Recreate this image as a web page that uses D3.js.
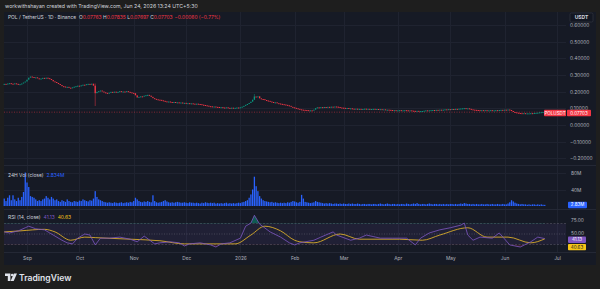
<!DOCTYPE html>
<html>
<head>
<meta charset="utf-8">
<script src="https://cdn.jsdelivr.net/npm/d3@7"></script>
<style>
  html, body { margin: 0; padding: 0; background: #1e1e1e; overflow: hidden; }
  svg { display: block; }
</style>
</head>
<body>
<script>
// daily closes for POL/USDT, first candle is 2025-08-19
const startDay = new Date(Date.UTC(2025, 7, 19));
const firstOpen = 0.245;
const closes = [
  0.247, 0.244, 0.249, 0.251, 0.248, 0.246, 0.250, 0.247, 0.243, 0.245,
  0.249, 0.255, 0.261, 0.272, 0.284, 0.291, 0.288, 0.283, 0.286, 0.280,
  0.277, 0.279, 0.283, 0.280, 0.284, 0.281, 0.276, 0.270, 0.262, 0.258,
  0.252, 0.246, 0.240, 0.233, 0.231, 0.226, 0.229, 0.224, 0.221, 0.226,
  0.230, 0.233, 0.236, 0.235, 0.238, 0.242, 0.240, 0.245, 0.247, 0.244,
  0.248, 0.236, 0.191, 0.199, 0.203, 0.207, 0.201, 0.196, 0.193, 0.191,
  0.194, 0.199, 0.197, 0.200, 0.196, 0.199, 0.203, 0.201, 0.201, 0.198,
  0.203, 0.199, 0.196, 0.193, 0.191, 0.178, 0.165, 0.169, 0.172, 0.171,
  0.176, 0.179, 0.181, 0.176, 0.169, 0.161, 0.157, 0.154, 0.152, 0.151,
  0.148, 0.145, 0.142, 0.140, 0.141, 0.138, 0.136, 0.138, 0.135, 0.136,
  0.134, 0.135, 0.132, 0.133, 0.130, 0.131, 0.129, 0.130, 0.128, 0.127,
  0.128, 0.126, 0.125, 0.122, 0.120, 0.118, 0.116, 0.113, 0.112, 0.110,
  0.111, 0.109, 0.108, 0.106, 0.107, 0.105, 0.104, 0.106, 0.103, 0.102,
  0.104, 0.102, 0.103, 0.105, 0.104, 0.106, 0.110, 0.115, 0.121, 0.126,
  0.132, 0.140, 0.152, 0.171, 0.168, 0.172, 0.160, 0.156, 0.155, 0.150,
  0.147, 0.145, 0.141, 0.138, 0.135, 0.136, 0.131, 0.129, 0.127, 0.125,
  0.123, 0.121, 0.118, 0.115, 0.109, 0.106, 0.103, 0.100, 0.097, 0.094,
  0.092, 0.091, 0.090, 0.089, 0.087, 0.088, 0.086, 0.092, 0.101, 0.106,
  0.104, 0.107, 0.105, 0.108, 0.106, 0.109, 0.107, 0.110, 0.108, 0.111,
  0.110, 0.108, 0.105, 0.104, 0.103, 0.101, 0.102, 0.099, 0.100, 0.098,
  0.097, 0.098, 0.096, 0.097, 0.095, 0.096, 0.098, 0.096, 0.097, 0.095,
  0.096, 0.097, 0.095, 0.096, 0.094, 0.095, 0.093, 0.094, 0.092, 0.092,
  0.091, 0.090, 0.089, 0.089, 0.088, 0.088, 0.089, 0.087, 0.088, 0.089,
  0.088, 0.087, 0.088, 0.086, 0.085, 0.084, 0.085, 0.083, 0.083, 0.084,
  0.086, 0.088, 0.087, 0.088, 0.089, 0.090, 0.089, 0.091, 0.090, 0.092,
  0.091, 0.092, 0.094, 0.093, 0.095, 0.094, 0.096, 0.095, 0.097, 0.096,
  0.098, 0.099, 0.100, 0.101, 0.099, 0.100, 0.097, 0.094, 0.092, 0.091,
  0.090, 0.089, 0.088, 0.089, 0.088, 0.089, 0.087, 0.088, 0.089, 0.088,
  0.088, 0.089, 0.088, 0.090, 0.091, 0.090, 0.092, 0.091, 0.093, 0.090,
  0.084, 0.078, 0.076, 0.074, 0.072, 0.071, 0.070, 0.071, 0.069, 0.070,
  0.070, 0.071, 0.070, 0.072, 0.073, 0.074, 0.076, 0.077, 0.078, 0.07703
];
// the few candles whose wicks stand out
const wickIndex = [52, 143];
const wickHigh = [0.249, 0.186];
const wickLow = [0.114, 0.150];

// 24h volume, millions
const volumes = [
  18, 12, 20, 26, 14, 26, 16, 12, 20, 14,
  22, 34, 81, 57, 46, 24, 22, 20, 16, 12,
  14, 12, 16, 18, 24, 20, 16, 22, 18, 14,
  16, 12, 10, 14, 12, 10, 16, 12, 10, 9,
  12, 11, 10, 13, 12, 16, 14, 12, 11, 14,
  13, 18, 36, 22, 16, 14, 12, 10, 9, 8,
  9, 8, 7, 9, 8, 7, 8, 9, 7, 8,
  9, 8, 10, 9, 12, 20, 16, 12, 10, 9,
  11, 10, 12, 10, 9, 26, 12, 9, 8, 9,
  10, 12, 14, 11, 9, 8, 9, 8, 9, 10,
  9, 8, 8, 9, 8, 7, 9, 8, 8, 7,
  8, 7, 6, 8, 7, 9, 8, 7, 8, 7,
  8, 6, 7, 6, 7, 6, 7, 8, 6, 7,
  6, 7, 6, 7, 8, 7, 9, 10, 12, 14,
  20, 28, 40, 71, 48, 36, 24, 18, 14, 12,
  11, 10, 9, 10, 8, 9, 8, 7, 8, 7,
  8, 7, 9, 8, 10, 12, 11, 9, 8, 10,
  27, 18, 10, 9, 8, 7, 8, 9, 12, 10,
  9, 8, 7, 6, 7, 6, 7, 6, 5, 6,
  6, 5, 6, 5, 6, 5, 5, 6, 5, 6,
  5, 5, 6, 5, 4, 5, 5, 4, 5, 5,
  4, 5, 5, 4, 5, 6, 5, 4, 5, 6,
  5, 4, 5, 5, 4, 5, 4, 5, 5, 4,
  6, 5, 4, 5, 6, 5, 7, 5, 4, 5,
  5, 4, 5, 6, 5, 4, 5, 5, 4, 5,
  4, 5, 4, 5, 4, 5, 5, 4, 5, 4,
  5, 6, 5, 7, 6, 5, 5, 4, 5, 4,
  5, 4, 4, 5, 4, 4, 5, 4, 4, 5,
  4, 4, 5, 4, 4, 5, 4, 4, 6, 9,
  14, 11, 8, 6, 5, 4, 5, 4, 4, 3,
  4, 3, 4, 4, 3, 4, 3, 4, 3, 2.83
];

// RSI(14) and its moving average, sampled by day index
const rsiDay = [0, 3, 8, 12, 14, 18, 23, 26, 29, 33, 36, 39, 42, 46, 49, 52, 55, 60, 66, 72,
  76, 80, 86, 89, 95, 100, 103, 106, 112, 118, 121, 124, 129, 135, 138, 141, 143, 146, 152, 158,
  163, 166, 169, 177, 181, 188, 190, 198, 203, 207, 215, 222, 230, 235, 238, 243, 249, 255, 261, 263,
  265, 268, 272, 279, 283, 289, 295, 301, 305, 309];
const rsiVal = [54, 52, 56, 62, 65, 60, 58, 52, 46, 38, 33, 31, 42, 50, 48, 29, 42, 42, 44, 40,
  35, 46, 31, 33, 35, 33, 27, 31, 33, 29, 25, 31, 33, 42, 65, 71, 86, 69, 54, 44,
  33, 29, 33, 38, 44, 54, 48, 38, 42, 48, 42, 42, 42, 29, 42, 52, 58, 62, 67, 71,
  48, 38, 44, 42, 52, 29, 25, 35, 44, 41.13];
const maDay = [0, 9, 23, 29, 38, 46, 52, 72, 89, 103, 121, 132, 141, 149, 158, 166, 169, 177, 192, 203,
  226, 239, 249, 265, 276, 288, 301, 309];
const maVal = [54, 56, 59, 54, 38, 44, 43, 40, 37, 31, 31, 31, 48, 65, 56, 38, 35, 33, 50, 40,
  40, 38, 48, 62, 44, 44, 33, 40.63];

const priceTicks = [0.6, 0.5, 0.4, 0.3, 0.2, 0.1, 0, -0.1, -0.2];
const volTicks = [40, 80];
const rsiTicks = [50, 75];
const monthTicks = [
  [2025, 8], [2025, 9], [2025, 10], [2025, 11], [2026, 0], [2026, 1],
  [2026, 2], [2026, 3], [2026, 4], [2026, 5], [2026, 6]
].map(d => new Date(Date.UTC(d[0], d[1], 1)));
const monthLabels = ['Sep', 'Oct', 'Nov', 'Dec', '2026', 'Feb', 'Mar', 'Apr', 'May', 'Jun', 'Jul'];

const W = 600, H = 289;
const up = '#089981', down = '#f23645';
const textCol = '#b2b5be';
const font = 'Inter, "Noto Sans", sans-serif';

const svg = d3.select('body').append('svg')
  .attr('width', W).attr('height', H)
  .style('font-family', font);

svg.append('rect').attr('width', W).attr('height', H).attr('fill', '#1e1e1e');

svg.append('text')
  .attr('x', 5).attr('y', 7.6)
  .attr('font-size', 5.2).attr('fill', '#d1d4dc')
  .text('workwithshayan created with TradingView.com, Jun 24, 2026 13:24 UTC+5:30');

// chart panel
svg.append('rect')
  .attr('x', 4).attr('y', 12).attr('width', 592).attr('height', 253)
  .attr('fill', '#161a25');

const plotL = 4, plotR = 566;
const pane = { price: [12, 165], vol: [165, 209], rsi: [209, 252] };

const x = d3.scaleUtc()
  .domain([monthTicks[0], monthTicks[monthTicks.length - 1]])
  .range([27, 557]);
const yPrice = d3.scaleLinear().domain([0, 0.5]).range([125, 41.7]);
const yVol = d3.scaleLinear().domain([0, 80]).range([206, 173]);
const yRsi = d3.scaleLinear().domain([50, 75]).range([234, 221]);

const dayAt = i => d3.utcDay.offset(startDay, i);

// grid
const grid = svg.append('g').attr('stroke', '#1f2330').attr('stroke-width', 1);
grid.selectAll('line.v').data(monthTicks).join('line')
  .attr('class', 'v')
  .attr('x1', d => Math.round(x(d)) + 0.5).attr('x2', d => Math.round(x(d)) + 0.5)
  .attr('y1', 12).attr('y2', pane.rsi[1]);
grid.selectAll('line.h').data(priceTicks.filter(t => yPrice(t) > pane.price[0] + 4 && yPrice(t) < pane.price[1])).join('line')
  .attr('class', 'h')
  .attr('x1', plotL).attr('x2', plotR)
  .attr('y1', d => Math.round(yPrice(d)) + 0.5).attr('y2', d => Math.round(yPrice(d)) + 0.5);
grid.selectAll('line.hv').data(volTicks).join('line')
  .attr('class', 'hv')
  .attr('x1', plotL).attr('x2', plotR)
  .attr('y1', d => Math.round(yVol(d)) + 0.5).attr('y2', d => Math.round(yVol(d)) + 0.5);

// pane separators
svg.append('g').attr('stroke', '#242835')
  .selectAll('line').data([pane.price[1], pane.vol[1], pane.rsi[1]]).join('line')
  .attr('x1', 4).attr('x2', 596)
  .attr('y1', d => d + 0.5).attr('y2', d => d + 0.5);

// last price line
const lastClose = closes[closes.length - 1];
svg.append('line')
  .attr('x1', plotL).attr('x2', plotR)
  .attr('y1', yPrice(lastClose)).attr('y2', yPrice(lastClose))
  .attr('stroke', down).attr('stroke-width', 0.8)
  .attr('stroke-dasharray', '1,1.5').attr('opacity', 0.6);

// candles
const candles = closes.map((c, i) => ({ date: dayAt(i), o: i ? closes[i - 1] : firstOpen, c }));
const bw = 1.3;
svg.append('g').selectAll('rect').data(candles).join('rect')
  .attr('x', d => x(d.date) - bw / 2)
  .attr('width', bw)
  .attr('y', d => yPrice(Math.max(d.o, d.c)))
  .attr('height', d => Math.max(1, Math.abs(yPrice(d.o) - yPrice(d.c))))
  .attr('fill', d => d.c >= d.o ? up : down);
svg.append('g').selectAll('line').data(wickIndex).join('line')
  .attr('x1', i => x(dayAt(i))).attr('x2', i => x(dayAt(i)))
  .attr('y1', (i, k) => yPrice(wickHigh[k])).attr('y2', (i, k) => yPrice(wickLow[k]))
  .attr('stroke', i => candles[i].c >= candles[i].o ? up : down)
  .attr('stroke-width', 0.8).attr('opacity', 0.6);

// volume bars
svg.append('g').selectAll('rect').data(volumes).join('rect')
  .attr('x', (v, i) => x(dayAt(i)) - bw / 2)
  .attr('width', bw)
  .attr('y', v => yVol(v))
  .attr('height', v => yVol(0) - yVol(v))
  .attr('fill', '#2962ff');

// RSI pane
const rsiG = svg.append('g');
rsiG.append('rect')
  .attr('x', plotL).attr('width', plotR - plotL)
  .attr('y', yRsi(70)).attr('height', yRsi(30) - yRsi(70))
  .attr('fill', '#7e57c2').attr('opacity', 0.1);
rsiG.selectAll('line').data([70, 50, 30]).join('line')
  .attr('x1', plotL).attr('x2', plotR)
  .attr('y1', d => yRsi(d)).attr('y2', d => yRsi(d))
  .attr('stroke', '#787b86').attr('stroke-width', 0.6)
  .attr('stroke-dasharray', d => d === 50 ? '1,1.5' : '2,1.5')
  .attr('opacity', 0.7);

const defs = svg.append('defs');
defs.append('clipPath').attr('id', 'ob').append('rect')
  .attr('x', plotL).attr('width', plotR - plotL).attr('y', pane.rsi[0]).attr('height', yRsi(70) - pane.rsi[0]);
defs.append('clipPath').attr('id', 'os').append('rect')
  .attr('x', plotL).attr('width', plotR - plotL).attr('y', yRsi(30)).attr('height', pane.rsi[1] - yRsi(30));

const rsiPts = rsiDay.map((d, k) => [x(dayAt(d)), yRsi(rsiVal[k])]);
rsiG.append('path').datum(rsiPts)
  .attr('clip-path', 'url(#ob)')
  .attr('fill', up).attr('opacity', 0.5)
  .attr('d', d3.area().x(p => p[0]).y0(yRsi(70)).y1(p => p[1]));
rsiG.append('path').datum(rsiPts)
  .attr('clip-path', 'url(#os)')
  .attr('fill', down).attr('opacity', 0.15)
  .attr('d', d3.area().x(p => p[0]).y0(yRsi(30)).y1(p => p[1]));

rsiG.append('path').datum(maDay.map((d, k) => [x(dayAt(d)), yRsi(maVal[k])]))
  .attr('fill', 'none').attr('stroke', '#d9ad2a').attr('stroke-width', 0.9)
  .attr('d', d3.line().curve(d3.curveMonotoneX));
rsiG.append('path').datum(rsiPts)
  .attr('fill', 'none').attr('stroke', '#7e57c2').attr('stroke-width', 0.8)
  .attr('d', d3.line());

// right scale labels
const fmtPrice = d3.format('.5f');
const axisStyle = g => {
  g.select('.domain').remove();
  g.selectAll('text').attr('fill', textCol).attr('font-size', 4.8).attr('font-family', font);
};
svg.append('g').attr('transform', `translate(566,0)`)
  .call(d3.axisRight(yPrice).tickValues(priceTicks).tickFormat(fmtPrice).tickSize(0).tickPadding(4))
  .call(axisStyle);
svg.append('g').attr('transform', `translate(566,0)`)
  .call(d3.axisRight(yVol).tickValues(volTicks).tickFormat(d => d + 'M').tickSize(0).tickPadding(5))
  .call(axisStyle);
svg.append('g').attr('transform', `translate(566,-0.6)`)
  .call(d3.axisRight(yRsi).tickValues(rsiTicks).tickFormat(d3.format('.2f')).tickSize(0).tickPadding(5))
  .call(axisStyle);

// x axis
svg.append('g').attr('transform', `translate(0,${pane.rsi[1] + 2})`)
  .call(d3.axisBottom(x).tickValues(monthTicks).tickFormat((d, i) => monthLabels[i]).tickSize(0).tickPadding(3))
  .call(axisStyle);

// currency box
svg.append('rect').attr('x', 570).attr('y', 13).attr('width', 23).attr('height', 9)
  .attr('rx', 1.5).attr('fill', '#131722').attr('stroke', '#363a45').attr('stroke-width', 0.6);
svg.append('text').attr('x', 581.5).attr('y', 19.3).attr('text-anchor', 'middle')
  .attr('font-size', 5).attr('font-weight', 700).attr('fill', '#d1d4dc').text('USDT');

// value tags on the scale
function tag(x0, w, yc, fill, txtFill, label) {
  svg.append('rect').attr('x', x0).attr('y', yc - 3.1).attr('width', w).attr('height', 6.4)
    .attr('rx', 0.8).attr('fill', fill);
  svg.append('text').attr('x', x0 + w / 2).attr('y', yc + 1.6).attr('text-anchor', 'middle')
    .attr('font-size', 4.5).attr('fill', txtFill).text(label);
}
const priceTagY = yPrice(lastClose) + 0.8;
tag(544, 22, priceTagY, down, '#fff', 'POLUSDT');
tag(567, 24, priceTagY, down, '#fff', fmtPrice(lastClose));
tag(568, 19, yVol(volumes[volumes.length - 1]), '#2962ff', '#fff', '2.83M');
const rsiTagY = yRsi(rsiVal[rsiVal.length - 1]) + 1;
tag(568, 18, rsiTagY, '#7e57c2', '#fff', '41.13');
tag(568, 18, rsiTagY + 7.4, '#f5c518', '#131722', '40.63');

// legends
const lg = svg.append('text').attr('x', 8).attr('y', 19).attr('font-size', 4.9).attr('fill', '#d1d4dc');
lg.append('tspan').text('POL / TetherUS · 1D · Binance ');
[['O', '0.07763'], ['H', '0.07835'], ['L', '0.07697'], ['C', '0.07703']].forEach(p => {
  lg.append('tspan').attr('dx', 1.5).text(p[0]);
  lg.append('tspan').attr('fill', down).text(p[1]);
});
lg.append('tspan').attr('dx', 2).attr('fill', down).text('−0.00060 (−0.77%)');

const vl = svg.append('text').attr('x', 8).attr('y', 176.5).attr('font-size', 4.9).attr('fill', '#d1d4dc');
vl.append('tspan').text('24H Vol (close)');
vl.append('tspan').attr('dx', 3).attr('fill', '#2962ff').text('2.834M');

const rl = svg.append('text').attr('x', 8).attr('y', 218.5).attr('font-size', 4.9).attr('fill', '#d1d4dc');
rl.append('tspan').text('RSI (14, close)');
rl.append('tspan').attr('dx', 3).attr('fill', '#7e57c2').text('41.13');
rl.append('tspan').attr('dx', 3).attr('fill', '#f5c518').text('40.63');

// footer logo
const logo = svg.append('g').attr('fill', '#e0e3eb');
logo.append('path').attr('d', 'M5 273.5h5.4v7.5h-2.6v-5h-2.8z');
logo.append('circle').attr('cx', 12.2).attr('cy', 275).attr('r', 1.3);
logo.append('path').attr('d', 'M13.9 273.5h3.1l-3.3 7.5h-3.1z');
svg.append('text').attr('x', 19).attr('y', 280.6)
  .attr('font-size', 8.6).attr('font-weight', 600).attr('fill', '#e0e3eb')
  .text('TradingView');
</script>
</body>
</html>
